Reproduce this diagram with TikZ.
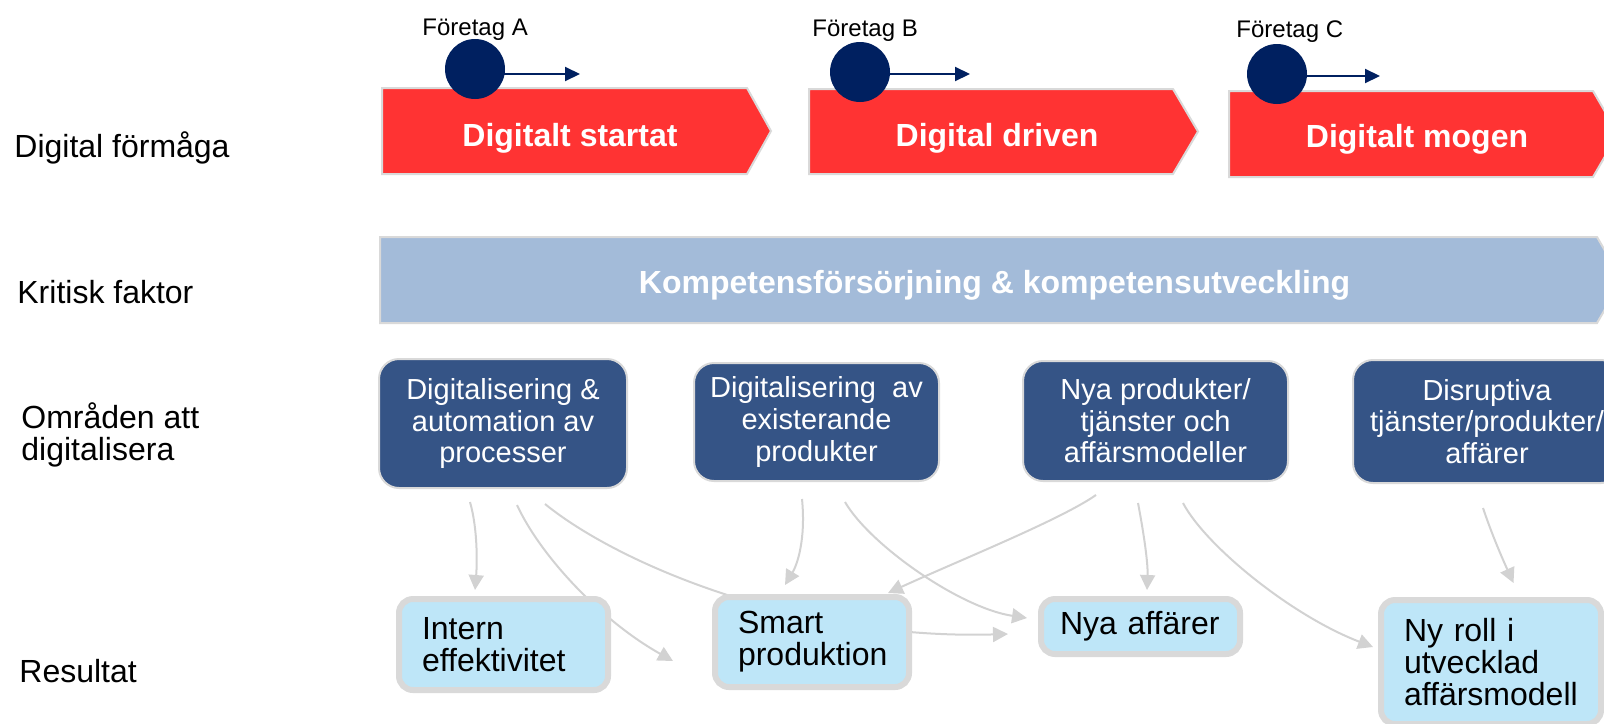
\documentclass[tikz,border=0pt]{standalone}
\usepackage{fontspec}
\setmainfont{Liberation Sans}
\usetikzlibrary{calc,arrows.meta}
\hyphenpenalty=10000

\definecolor{stagered}{RGB}{255,51,51}
\definecolor{factorblue}{RGB}{163,187,217}
\definecolor{areablue}{RGB}{53,84,134}
\definecolor{resultblue}{RGB}{190,230,248}
\definecolor{navy}{RGB}{0,32,96}
\definecolor{edgegray}{RGB}{217,217,217}
\definecolor{linkgray}{RGB}{210,210,210}

\pgfdeclarelayer{links}
\pgfsetlayers{links,main}

\begin{document}
\begin{tikzpicture}[x=0.5pt,y=-0.5pt,
    stage/.style={draw=edgegray,line width=1pt,fill=stagered},
    stagetext/.style={anchor=base,inner sep=0pt,text=white,font=\bfseries\fontsize{16}{19}\selectfont},
    company/.style={circle,fill=navy,minimum size=30pt,inner sep=0pt},
    companylabel/.style={anchor=base west,inner sep=0pt,font=\fontsize{12}{14}\selectfont},
    move/.style={draw=navy,line width=1pt,-{Triangle[length=7.5pt,width=7pt]}},
    rowlabel/.style={anchor=base west,inner sep=0pt,font=\fontsize{16}{19}\selectfont},
    area/.style={draw=edgegray,line width=1pt,fill=areablue,rounded corners=10pt,text=white,align=center,inner sep=0pt,font=\fontsize{14.5}{15.8}\selectfont},
    result/.style={draw=edgegray,line width=3pt,fill=resultblue,rounded corners=7pt,align=left,inner xsep=11.5pt,inner ysep=0pt,font=\fontsize{16}{16}\selectfont},
    link/.style={draw=linkgray,line width=1pt,-{Triangle[length=7.5pt,width=7.5pt]}}
  ]
  \useasboundingbox (0,0) rectangle (1604,723);
  \clip (0,0) rectangle (1604,723);

  % row labels
  \node[rowlabel] (lstage) at (14,157) {Digital förmåga};
  \node[rowlabel] (lfactor) at (17,303) {Kritisk faktor};
  \node[rowlabel] (larea1) at (21,428) {Områden att};
  \node[rowlabel] (larea2) at (21,460) {digitalisera};
  \node[rowlabel] (lresult) at (19,682) {Resultat};

  % stages
  \draw[stage] (382,88) -- (747,88) -- (771,131) -- (747,174) -- (382,174) -- cycle;
  \draw[stage] (809,89) -- (1173,89) -- (1198,131.5) -- (1173,174) -- (809,174) -- cycle;
  \draw[stage] (1229,91) -- (1593,91) -- (1618,134) -- (1593,177) -- (1229,177) -- cycle;
  \node[stagetext] (s1) at (570,146) {Digitalt startat};
  \node[stagetext] (s2) at (997,146) {Digital driven};
  \node[stagetext] (s3) at (1417,147) {Digitalt mogen};

  % companies
  \node[companylabel] (la) at (422,35) {Företag A};
  \node[companylabel] (lb) at (812,36) {Företag B};
  \node[companylabel] (lc) at (1236,37) {Företag C};
  \node[company] (fa) at (475,69) {};
  \node[company] (fb) at (860,72) {};
  \node[company] (fc) at (1277,74) {};
  \coordinate (fa-end) at (580,74);
  \coordinate (fb-end) at (970,74);
  \coordinate (fc-end) at (1380,76);
  \draw[move] (fa |- fa-end) -- (fa-end);
  \draw[move] (fb |- fb-end) -- (fb-end);
  \draw[move] (fc |- fc-end) -- (fc-end);

  % critical factor
  \draw[stage,fill=factorblue] (380,237) -- (1597,237) -- (1622,280) -- (1597,323) -- (380,323) -- cycle;
  \node[stagetext] (kf) at (994.5,293) {Kompetensförsörjning \& kompetensutveckling};

  % areas
  \node[area,minimum width=124pt,minimum height=64.5pt] (d1) at (503,423.5) {Digitalisering \&\\automation av\\processer};
  \node[area,minimum width=122.5pt,minimum height=59pt] (d2) at (816.5,422) {Digitalisering\ \ av\\existerande\\produkter};
  \node[area,minimum width=132.5pt,minimum height=60pt] (d3) at (1155.5,421) {Nya produkter/\\tjänster och\\affärsmodeller};
  \node[area,minimum width=134pt,minimum height=61.5pt] (d4) at (1487,421.5) {Disruptiva\\tjänster/produkter/\\affärer};

  % results
  \node[result,text width=81.5pt,minimum height=45.5pt] (r1) at (503.5,644.5) {Intern\\effektivitet};
  \node[result,text width=74pt,minimum height=45pt] (r2) at (812,642) {Smart\\produktion};
  \node[result,inner xsep=9.5pt,text width=80.5pt,minimum height=27.5pt] (r3) at (1140.5,626.5) {Nya affärer};
  \node[result,text width=87pt,minimum height=62pt] (r4) at (1491,662) {Ny roll i\\utvecklad\\affärsmodell};

  % links
  \begin{pgfonlayer}{links}
    \draw[link] ($(d1.south)+(-33,13)$) .. controls (478,530) and (477,565) .. ($(r1.north)+(-28.5,-6)$);
    \draw[link] ($(d1.south)+(14,16)$) .. controls (540,555) and (600,620) .. ($(r2.west)+(-39,19)$);
    \draw[link] ($(d1.south)+(42,15)$) .. controls (620,565) and (800,640) .. ($(r3.west)+(-30,7.5)$);
    \draw[link] ($(d2.south)+(-14.5,17)$) .. controls (806,540) and (797,565) .. ($(r2.north)+(-27,-9)$);
    \draw[link] ($(d2.south)+(28.5,20)$) .. controls (870,545) and (960,608) .. ($(r3.west)+(-11,-8.5)$);
    \draw[link] ($(d3.south)+(-59.5,13)$) .. controls (1060,520) and (960,560) .. ($(r2.north east)+(-24,-1)$);
    \draw[link] ($(d3.south)+(-17.5,21)$) .. controls (1145,540) and (1148,565) .. ($(r3.north)+(6.5,-6)$);
    \draw[link] ($(d3.south)+(27.5,21)$) .. controls (1205,545) and (1290,615) .. ($(r4.west)+(-5,-15)$);
    \draw[link] ($(d4.south)+(-4,24)$) .. controls (1492,535) and (1503,560) .. ($(r4.north)+(22.5,-14)$);
  \end{pgfonlayer}
\end{tikzpicture}
\end{document}
